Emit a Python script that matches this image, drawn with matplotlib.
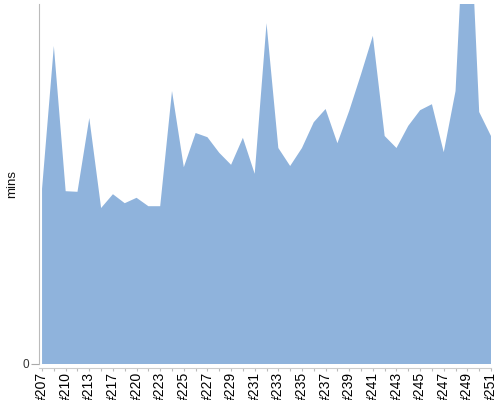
import numpy as np
import matplotlib.pyplot as plt

plt.rcParams['font.family'] = ['Liberation Sans', 'DejaVu Sans']

# build numbers (every other one is labelled on the axis)
builds = ['#207', '#208', '#210', '#211', '#213', '#215', '#217', '#218', '#220', '#221',
          '#223', '#224', '#225', '#226', '#227', '#228', '#229', '#230', '#231', '#232',
          '#233', '#234', '#235', '#236', '#237', '#238', '#239', '#240', '#241', '#242',
          '#243', '#244', '#245', '#246', '#247', '#248', '#249', '#250', '#251']

# build duration in minutes
mins = [29.2, 53.0, 28.8, 28.7, 41.0, 26.0, 28.3, 26.8, 27.7, 26.3,
        26.3, 45.5, 32.8, 38.5, 37.8, 35.2, 33.2, 37.7, 31.7, 56.8,
        36.0, 33.0, 36.0, 40.3, 42.5, 36.8, 42.2, 48.3, 54.7, 38.0,
        36.0, 39.7, 42.3, 43.3, 35.3, 45.5, 85.5, 42.0, 38.0]

x = np.arange(len(builds))

fig = plt.figure(figsize=(5, 4), dpi=100)
ax = fig.add_axes([0.077, 0.09, 0.905, 0.90])

ax.fill_between(x, 0, mins, color='#8fb3dc', linewidth=0)

ax.set_xlim(-0.3, len(builds) - 1)
ax.set_ylim(0, 60)

# only zero is labelled on y
ax.set_yticks([0])
ax.set_yticklabels(['0'], fontsize=8.5, color='#333333')
ax.tick_params(axis='y', length=5.5, width=0.8, color='#aaaaaa', pad=1.5)

ax.set_xticks(x[::2])
ax.set_xticklabels(builds[::2], fontsize=6.8, color='#111111')
ax.set_xticks(x[1::2], minor=True)
ax.tick_params(axis='x', which='both', length=2.2, width=0.8, color='#bbbbbb', pad=0.5,
               labelrotation=90)

ax.set_ylabel('mins', fontsize=9.5, color='#111111')
ax.yaxis.set_label_coords(-0.045, 0.5)

for side in ['top', 'right']:
    ax.spines[side].set_visible(False)
ax.spines['left'].set_color('#bbbbbb')
ax.spines['bottom'].set_color('#cccccc')
ax.spines['bottom'].set_position(('outward', 3.2))

fig.savefig('out.png', dpi=100)
